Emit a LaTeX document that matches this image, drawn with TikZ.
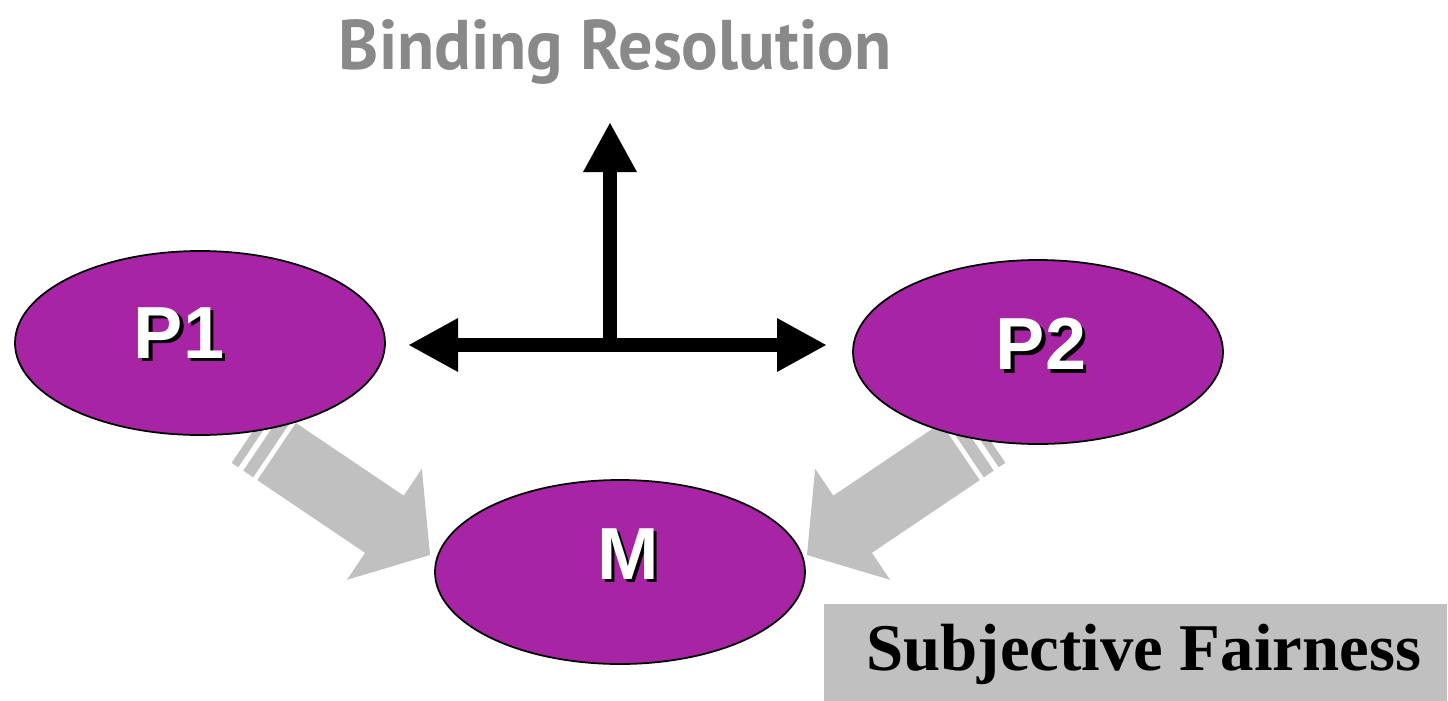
\documentclass[tikz,border=0pt]{standalone}
\usepackage{fontspec}
\setmainfont{Liberation Serif}
\newfontfamily\labelfont{Liberation Sans}
\newfontfamily\titlefont{PT Sans}
\usetikzlibrary{shapes.geometric,arrows.meta}

\definecolor{procpurple}{RGB}{167,36,165}
\definecolor{arrowgray}{RGB}{192,192,192}
\definecolor{titlegray}{RGB}{137,137,137}

\newcommand{\shadowtxt}[1]{\rlap{\kern1pt\raisebox{-1pt}[0pt][0pt]{\color{black}#1}}#1}

\tikzset{
  proc/.style={ellipse, draw=black, line width=0.5pt, fill=procpurple,
    minimum width=3.70cm, minimum height=1.84cm, inner sep=0pt},
  proclabel/.style={text=white, inner sep=0pt,
    font=\labelfont\bfseries\fontsize{21}{21}\selectfont},
  bind/.style={line width=0.14cm},
  fairbox/.style={fill=arrowgray, minimum width=6.23cm, minimum height=1.00cm,
    inner sep=0pt, font=\bfseries\fontsize{19}{19}\selectfont},
  titletext/.style={text=titlegray, inner sep=0pt, xscale=0.97,
    font=\titlefont\bfseries\fontsize{20}{20}\selectfont},
  fatarrow/.pic={
    \fill[arrowgray] (0,0) -- (-0.55,0.67) -- (-0.55,0.345) -- (-1.85,0.345)
      -- (-1.85,-0.345) -- (-0.55,-0.345) -- (-0.55,-0.67) -- cycle;
    \fill[arrowgray] (-1.90,0.345) rectangle (-2.02,-0.345);
    \fill[arrowgray] (-2.08,0.345) rectangle (-2.16,-0.345);
  }
}

\begin{document}
\begin{tikzpicture}[>={Triangle[length=0.5cm,width=0.5cm]}]
\useasboundingbox (0,0) rectangle (14.48,7.00);
% Title
\node[titletext, anchor=base] (title) at (6.15,6.31) {Binding Resolution};
% Gray arrows into M
\coordinate (tipL) at (4.30,1.45);
\coordinate (tipR) at (8.07,1.45);
\pic[rotate=-34] at (tipL) {fatarrow};
\pic[rotate=214] at (tipR) {fatarrow};
% Processes
\node[proc] (p1) at (2.00,3.57) {};
\node[proc] (p2) at (10.38,3.48) {};
\node[proc] (m) at (6.20,1.28) {};
\node[proclabel] (p1txt) at (1.79,3.67) {\shadowtxt{P1}};
\node[proclabel] (p2txt) at (10.41,3.56) {\shadowtxt{P2}};
\node[proclabel] (mtxt) at (6.28,1.46) {\shadowtxt{M}};
% Binding arrows
\coordinate (hub) at (6.10,3.55);
\coordinate (lefttip) at (4.08,3.55);
\coordinate (righttip) at (8.27,3.55);
\coordinate (uptip) at (6.10,5.78);
\draw[bind,<->] (lefttip) -- (righttip);
\draw[bind,->] (hub) -- (uptip);
% Label box
\node[fairbox, anchor=south east] (fair) at (14.48,-0.05) {\hspace*{0.16cm}Subjective Fairness};
\end{tikzpicture}
\end{document}
